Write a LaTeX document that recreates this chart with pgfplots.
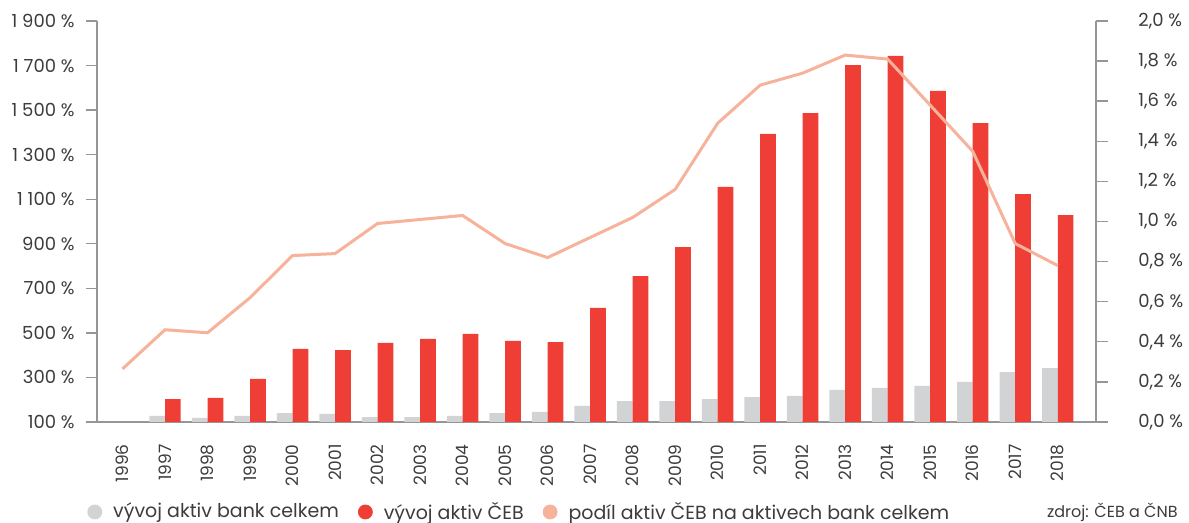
\documentclass[border=0pt]{standalone}
\usepackage{pgfplots}
\pgfplotsset{compat=1.18}
\usepackage{fontspec}
\setmainfont{Poppins}
\definecolor{barGray}{RGB}{210,211,213}
\definecolor{barRed}{RGB}{238,62,54}
\definecolor{lineSalmon}{RGB}{246,178,154}
\definecolor{axisGray}{RGB}{150,150,150}
\definecolor{textGray}{RGB}{60,60,60}
\begin{document}
\begin{tikzpicture}[font=\fontsize{9}{11}\selectfont, text=textGray]
\useasboundingbox (0,0) rectangle (594.5pt,261.5pt);
\begin{axis}[
  at={(48.5pt,50.5pt)}, anchor=south west,
  scale only axis, width=499.5pt, height=200.5pt,
  xmin=-0.6, xmax=22.9, ymin=100, ymax=1900,
  axis x line*=bottom, axis y line*=left,
  axis line style={draw=axisGray, line width=0.7pt, -},
  xtick={0,...,22},
  xticklabels={1996,1997,1998,1999,2000,2001,2002,2003,2004,2005,2006,2007,2008,2009,2010,2011,2012,2013,2014,2015,2016,2017,2018},
  xticklabel style={rotate=90, anchor=east, inner sep=0pt, xshift=-5.5pt, text=textGray, font=\fontsize{8.5}{10}\selectfont},
  x tick style={draw=none},
  ytick={100,300,500,700,900,1100,1300,1500,1700,1900},
  yticklabels={100 \%,300 \%,500 \%,700 \%,900 \%,1 100 \%,1 300 \%,1 500 \%,1 700 \%,1 900 \%},
  yticklabel style={text=textGray, inner sep=0pt, xshift=-5.5pt},
  y tick style={draw=axisGray, line width=0.7pt},
  tick align=outside, major tick length=5.5pt,
  legend style={at={(-0.01,-0.2244)}, anchor=west, draw=none, fill=none,
    legend columns=3, inner sep=0pt, /tikz/every even column/.append style={column sep=7.5pt},
    font=\fontsize{9.5}{11}\selectfont, text=textGray},
  legend cell align=left,
]
\addplot[ybar, bar width=0.37, bar shift=-0.185, fill=barGray, draw=none, forget plot] coordinates {
(1,127) (2,118) (3,127) (4,140) (5,136) (6,122) (7,122) (8,127) (9,140) (10,145) (11,172)
(12,194) (13,194) (14,203) (15,212) (16,217) (17,244) (18,253) (19,262) (20,280) (21,324) (22,342)};
\addplot[ybar, bar width=0.37, bar shift=0.185, fill=barRed, draw=none, forget plot] coordinates {
(1,203) (2,208) (3,293) (4,428) (5,423) (6,455) (7,473) (8,495) (9,464) (10,459) (11,612)
(12,755) (13,885) (14,1155) (15,1393) (16,1487) (17,1702) (18,1743) (19,1586) (20,1442) (21,1123) (22,1029)};
\addlegendimage{legend image code/.code={\fill[barGray] (0pt,0pt) circle (3.5pt); \path (7pt,0pt);}}
\addlegendentry{vývoj aktiv bank celkem}
\addlegendimage{legend image code/.code={\fill[barRed] (0pt,0pt) circle (3.5pt); \path (7pt,0pt);}}
\addlegendentry{vývoj aktiv ČEB}
\addlegendimage{legend image code/.code={\fill[lineSalmon] (0pt,0pt) circle (3.5pt); \path (7pt,0pt);}}
\addlegendentry{podíl aktiv ČEB na aktivech bank celkem}
\end{axis}
\begin{axis}[
  at={(48.5pt,50.5pt)}, anchor=south west,
  scale only axis, width=499.5pt, height=200.5pt,
  xmin=-0.6, xmax=22.9, ymin=0, ymax=2,
  axis x line=none, axis y line*=right,
  axis line style={draw=axisGray, line width=0.7pt, -},
  ytick={0,0.2,0.4,0.6,0.8,1.0,1.2,1.4,1.6,1.8,2.0},
  yticklabels={{0,0 \%},{0,2 \%},{0,4 \%},{0,6 \%},{0,8 \%},{1,0 \%},{1,2 \%},{1,4 \%},{1,6 \%},{1,8 \%},{2,0 \%}},
  yticklabel style={text=textGray, inner sep=0pt, xshift=15pt},
  y tick style={draw=axisGray, line width=0.7pt},
  tick align=outside, major tick length=6pt,
]
\addplot[lineSalmon, line width=1.5pt, mark=none] coordinates {
(0,0.265) (1,0.46) (2,0.445) (3,0.62) (4,0.83) (5,0.84) (6,0.99) (7,1.01) (8,1.03) (9,0.89) (10,0.82)
(11,0.92) (12,1.02) (13,1.16) (14,1.49) (15,1.68) (16,1.74) (17,1.83) (18,1.81) (19,1.58) (20,1.35) (21,0.89) (22,0.78)};
\end{axis}
\node[anchor=east, inner sep=0pt, font=\fontsize{8}{10}\selectfont] at (589pt,5.5pt) {zdroj: ČEB a ČNB};
\end{tikzpicture}
\end{document}
